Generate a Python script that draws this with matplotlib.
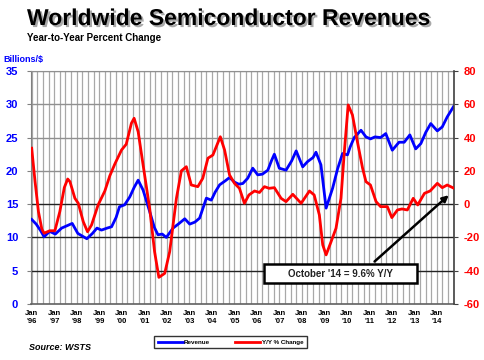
import matplotlib
matplotlib.use("Agg")
import matplotlib.pyplot as plt
import matplotlib.patheffects as pe
from matplotlib.patches import Rectangle
import numpy as np

plt.rcParams['font.family'] = ['Liberation Sans', 'DejaVu Sans']

# ---- data (decimal years) ----
rev_t = [1996.0, 1996.2, 1996.4, 1996.55, 1996.8, 1997.05, 1997.33, 1997.6, 1997.8, 1998.05,
         1998.25, 1998.45, 1998.7, 1998.9, 1999.1, 1999.35, 1999.55, 1999.75, 1999.9, 2000.13,
         2000.36, 2000.55, 2000.73, 2000.95, 2001.24, 2001.45, 2001.61, 2001.8, 2001.98, 2002.28,
         2002.55, 2002.8, 2003.02, 2003.25, 2003.46, 2003.76, 2003.98, 2004.15, 2004.35, 2004.6,
         2004.79, 2005.01, 2005.2, 2005.38, 2005.6, 2005.82, 2006.04, 2006.25, 2006.49, 2006.65,
         2006.78, 2007.0, 2007.3, 2007.55, 2007.75, 2008.04, 2008.26, 2008.5, 2008.63, 2008.85,
         2009.08, 2009.37, 2009.59, 2009.81, 2010.03, 2010.15, 2010.33, 2010.63, 2010.85, 2011.05,
         2011.25, 2011.5, 2011.73, 2012.02, 2012.32, 2012.55, 2012.8, 2013.06, 2013.29, 2013.51,
         2013.73, 2014.02, 2014.24, 2014.46, 2014.75]
rev_v = [12.7, 12.0, 11.0, 10.1, 10.9, 10.5, 11.4, 11.8, 12.1, 10.6,
         10.2, 9.8, 10.6, 11.4, 11.1, 11.4, 11.6, 13.0, 14.6, 14.9,
         16.1, 17.5, 18.6, 17.1, 13.9, 11.5, 10.4, 10.5, 10.0, 11.4,
         12.1, 12.8, 12.0, 12.3, 12.9, 15.9, 15.6, 16.8, 17.9, 18.5,
         19.0, 18.3, 18.0, 18.1, 18.9, 20.4, 19.4, 19.5, 20.1, 21.5,
         22.5, 20.4, 20.1, 21.5, 23.0, 20.6, 21.4, 22.0, 22.8, 20.9,
         14.4, 17.4, 20.3, 22.6, 22.4, 23.6, 25.0, 26.1, 25.1, 24.8,
         25.1, 25.0, 25.6, 23.1, 24.3, 24.3, 25.4, 23.3, 24.1, 25.8,
         27.1, 26.0, 26.6, 28.1, 29.7]

yoy_t = [1996.0, 1996.15, 1996.3, 1996.45, 1996.55, 1996.8, 1997.03, 1997.25, 1997.45, 1997.6,
         1997.7, 1997.92, 1998.07, 1998.29, 1998.48, 1998.66, 1998.95, 1999.25, 1999.47, 1999.69,
         1999.99, 2000.2, 2000.43, 2000.55, 2000.73, 2000.95, 2001.24, 2001.46, 2001.65, 2001.91,
         2002.13, 2002.43, 2002.65, 2002.87, 2003.09, 2003.38, 2003.6, 2003.83, 2004.05, 2004.2,
         2004.38, 2004.57, 2004.79, 2005.01, 2005.23, 2005.45, 2005.65, 2005.9, 2006.12, 2006.34,
         2006.55, 2006.78, 2007.08, 2007.3, 2007.6, 2007.97, 2008.34, 2008.55, 2008.78, 2008.93,
         2009.08, 2009.3, 2009.52, 2009.74, 2009.89, 2010.06, 2010.25, 2010.47, 2010.7, 2010.85,
         2011.05, 2011.3, 2011.5, 2011.8, 2012.0, 2012.25, 2012.45, 2012.69, 2012.95, 2013.15,
         2013.45, 2013.7, 2014.02, 2014.24, 2014.46, 2014.75]
yoy_v = [33.6, 13.5, -4.5, -15.0, -17.5, -16.0, -16.0, -4.5, 10.0, 15.1,
         13.5, 3.5, 0.5, -10.5, -16.6, -12.5, -0.5, 7.9, 17.0, 24.0,
         32.5, 36.0, 48.6, 51.6, 43.5, 23.5, -2.5, -28.6, -44.0, -41.6,
         -28.6, 3.5, 20.0, 22.5, 11.5, 10.5, 15.5, 27.6, 29.5, 34.5,
         40.5, 32.5, 17.5, 12.5, 9.5, 0.5, 5.5, 7.9, 7.0, 10.5,
         9.5, 9.9, 3.5, 1.5, 5.9, 0.5, 7.9, 5.5, -6.5, -24.5,
         -30.5, -22.6, -14.5, 3.5, 31.5, 59.6, 53.6, 37.5, 21.6, 13.5,
         11.5, 1.5, -1.5, -1.5, -8.1, -3.5, -2.9, -3.5, 3.5, -0.5,
         6.5, 7.9, 12.5, 9.9, 11.5, 9.6]

years = list(range(1996, 2015))
xlabels = ["Jan\n'%02d" % (y % 100) for y in years]
left_ticks = [0, 5, 10, 15, 20, 25, 30, 35]
right_ticks = [-60, -40, -20, 0, 20, 40, 60, 80]

BLUE = '#0000FF'
RED = '#FF0000'

fig = plt.figure(figsize=(4.85, 3.6), dpi=100)
ax = fig.add_axes([0.0633, 0.1556, 0.8727, 0.6472])
ax2 = ax.twinx()

ax.set_xlim(1995.956, 2014.76)
ax.set_ylim(0, 35)
ax2.set_ylim(-60, 80)

# vertical quarterly grid
quarters = np.arange(1996.0, 2014.76, 0.25)
for q in quarters:
    ax.axvline(q, color='#a8a8a8', lw=0.9, zorder=0)
# horizontal grid
for v in left_ticks[1:]:
    col = '#222222' if v <= 15 else '#909090'
    ax.axhline(v, color=col, lw=1.0, zorder=0.5)

ax.plot(rev_t, rev_v, color=BLUE, lw=2.0, zorder=3, label='Revenue')
ax2.plot(yoy_t, yoy_v, color=RED, lw=2.0, zorder=3, label='Y/Y % Change')

ax.set_xticks(years)
ax.set_xticklabels(xlabels, fontsize=5.5, fontweight='bold', linespacing=1.3)
ax.tick_params(axis='x', length=0, pad=4)
ax.set_yticks(left_ticks)
ax.set_yticklabels([str(v) for v in left_ticks], color=BLUE, fontsize=8, fontweight='bold')
ax.tick_params(axis='y', length=3, color='#808080', pad=6)
ax2.set_yticks(right_ticks)
ax2.set_yticklabels([str(v) for v in right_ticks], color=RED, fontsize=8, fontweight='bold')
ax2.tick_params(axis='y', length=3, color='#404040', pad=4)

ax.spines['top'].set_color('#909090')
ax2.spines['top'].set_visible(False)
ax.spines['left'].set_color('#808080')
ax.spines['bottom'].set_color('#606060')
ax.spines['bottom'].set_linewidth(1.2)
ax2.spines['left'].set_visible(False)
ax2.spines['bottom'].set_visible(False)
ax2.spines['right'].set_color('#404040')
ax2.spines['right'].set_linewidth(1.2)
ax.spines['right'].set_visible(False)

# annotation box and arrow
ax2.add_patch(Rectangle((2006.34, -47.6), 6.78, 11.6, facecolor='white',
                        edgecolor='black', lw=1.8, zorder=5))
ax2.text(2009.73, -41.8, "October '14 = 9.6% Y/Y", ha='center', va='center',
         fontsize=7, fontweight='bold', color='#222222', zorder=6)
ax2.annotate('', xy=(2014.62, 6.5), xytext=(2011.14, -35.6),
             arrowprops=dict(arrowstyle='-|>', color='black', lw=1.8,
                             mutation_scale=9), zorder=6)

# titles
fig.text(27 / 485, 1 - 7 / 360, 'Worldwide Semiconductor Revenues', fontsize=16.5,
         fontweight='bold', va='top', ha='left',
         path_effects=[pe.withSimplePatchShadow(offset=(1.5, -1.5), shadow_rgbFace='#555555', alpha=0.5)])
fig.text(27 / 485, 1 - 33 / 360, 'Year-to-Year Percent Change', fontsize=7,
         fontweight='bold', va='top', ha='left')
fig.text(3 / 485, 1 - 55 / 360, 'Billions/$', fontsize=6.5, fontweight='bold',
         color=BLUE, va='top', ha='left')
fig.text(29 / 485, 1 - 343 / 360, 'Source: WSTS', fontsize=6.5, fontweight='bold',
         style='italic', va='top', ha='left')

h1, l1 = ax.get_legend_handles_labels()
h2, l2 = ax2.get_legend_handles_labels()
leg = fig.legend(h1 + h2, l1 + l2, loc='center', bbox_to_anchor=(230.5 / 485, 1 - 342 / 360),
                 ncol=2, fontsize=4.5, frameon=True, fancybox=False, edgecolor='black',
                 handlelength=4, columnspacing=4, borderpad=0.6, handletextpad=0.2)
leg.get_frame().set_linewidth(1.0)
for t in leg.get_texts():
    t.set_fontweight('bold')

fig.savefig('out.png', dpi=100)
